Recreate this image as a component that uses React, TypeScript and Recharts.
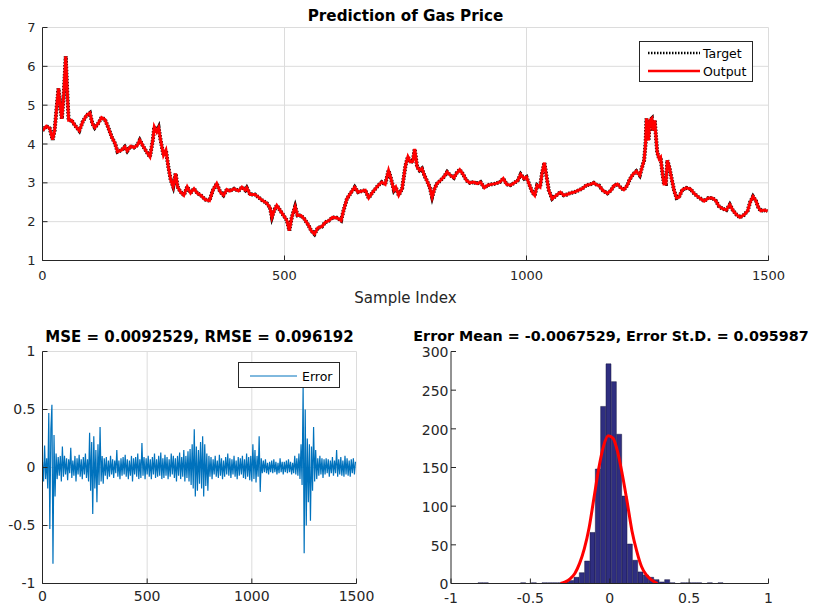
import React from 'react';
import { LineChart, Line, XAxis, YAxis, CartesianGrid, Legend, ComposedChart, Bar } from 'recharts';

// ---- Top plot: gas price (Target / Output) ----
const priceIndex = [
  0, 8, 15, 21, 25, 30, 33, 37, 40, 44, 48, 51, 54, 60, 67, 76, 83, 91, 98, 103,
  108, 115, 122, 129, 136, 143, 150, 155, 163, 170, 175, 182, 189, 196, 201, 208, 215, 222, 228, 231,
  236, 240, 244, 250, 255, 260, 265, 270, 275, 279, 285, 292, 299, 306, 313, 320, 327, 336, 345, 352,
  360, 367, 374, 381, 387, 396, 405, 412, 419, 422, 429, 439, 446, 454, 463, 470, 474, 479, 484, 491,
  498, 505, 510, 515, 522, 527, 534, 541, 550, 555, 562, 569, 577, 584, 592, 599, 608, 617, 622, 629,
  638, 645, 652, 660, 667, 674, 681, 688, 694, 701, 708, 715, 720, 726, 730, 736, 743, 750, 755, 760,
  765, 769, 774, 779, 784, 789, 794, 800, 805, 810, 815, 822, 829, 836, 843, 850, 855, 862, 869, 876,
  883, 891, 898, 905, 913, 920, 927, 936, 945, 952, 959, 967, 975, 982, 988, 995, 1000, 1005, 1012, 1017,
  1022, 1028, 1032, 1037, 1041, 1046, 1053, 1062, 1070, 1077, 1084, 1091, 1099, 1108, 1115, 1124, 1132, 1139, 1146, 1150,
  1158, 1167, 1174, 1181, 1188, 1195, 1201, 1208, 1213, 1220, 1227, 1234, 1239, 1243, 1246, 1248, 1252, 1255, 1259, 1261,
  1265, 1267, 1270, 1274, 1277, 1281, 1284, 1288, 1291, 1295, 1300, 1305, 1310, 1315, 1322, 1330, 1339, 1346, 1353, 1360,
  1367, 1376, 1384, 1391, 1398, 1406, 1413, 1420, 1427, 1434, 1441, 1450, 1457, 1462, 1468, 1474, 1479, 1484, 1491, 1498,
];
const priceValue = [
  4.35, 4.46, 4.40, 4.11, 4.35, 5.04, 5.43, 4.95, 4.65, 5.30, 6.26, 5.38, 4.61, 4.61, 4.48, 4.34, 4.57, 4.74, 4.80, 4.53,
  4.42, 4.53, 4.68, 4.63, 4.42, 4.18, 4.01, 3.80, 3.84, 3.93, 3.82, 3.94, 3.91, 3.97, 4.10, 3.94, 3.80, 3.67, 4.10, 4.44,
  4.31, 4.42, 4.10, 3.71, 3.84, 3.41, 3.07, 2.90, 3.24, 2.90, 2.77, 2.68, 2.90, 2.74, 2.85, 2.73, 2.68, 2.57, 2.54, 2.81,
  2.98, 2.77, 2.68, 2.83, 2.79, 2.85, 2.79, 2.89, 2.81, 2.87, 2.70, 2.70, 2.63, 2.55, 2.48, 2.36, 2.11, 2.30, 2.42, 2.29,
  2.16, 2.03, 1.77, 2.11, 2.39, 2.16, 2.16, 2.07, 1.90, 1.77, 1.68, 1.84, 1.87, 1.98, 2.03, 2.11, 2.10, 2.03, 2.29, 2.59,
  2.76, 2.89, 2.76, 2.79, 2.81, 2.61, 2.74, 2.85, 2.94, 3.02, 2.96, 3.32, 3.11, 2.81, 2.89, 2.68, 2.85, 3.45, 3.67, 3.54,
  3.55, 3.87, 3.41, 3.32, 3.37, 3.19, 3.06, 2.89, 2.63, 2.85, 2.98, 3.06, 3.15, 3.28, 3.19, 3.13, 3.24, 3.34, 3.22, 3.06,
  3.00, 3.02, 2.98, 3.02, 2.87, 2.94, 2.96, 2.98, 3.02, 3.11, 2.96, 2.94, 3.00, 3.06, 3.22, 3.11, 3.15, 2.98, 2.76, 2.68,
  2.94, 2.89, 3.24, 3.52, 3.19, 2.81, 2.59, 2.68, 2.76, 2.68, 2.70, 2.74, 2.76, 2.81, 2.85, 2.94, 2.96, 3.00, 2.94, 2.93,
  2.80, 2.73, 2.80, 2.93, 2.97, 2.87, 2.82, 2.93, 3.08, 3.22, 3.30, 3.19, 3.41, 3.58, 4.01, 4.66, 4.09, 4.61, 4.66, 4.35,
  4.61, 4.27, 3.79, 3.62, 3.66, 3.23, 2.97, 2.97, 3.58, 3.41, 3.10, 2.80, 2.61, 2.63, 2.82, 2.87, 2.84, 2.73, 2.65, 2.59,
  2.53, 2.61, 2.61, 2.54, 2.39, 2.33, 2.30, 2.44, 2.28, 2.18, 2.11, 2.18, 2.28, 2.50, 2.65, 2.54, 2.37, 2.28, 2.30, 2.27,
];

// ---- Bottom-left: prediction error, one reading every 5 samples ----
const errorStep = 5;
const errorValues = [
  0.05, -0.12, 0.19, -0.1, 0.08, -0.18, 0.47, -0.53, 0.33, 0.54,
  -0.83, 0.28, -0.25, 0.12, -0.1, 0.09, -0.07, 0.1, -0.12, 0.18,
  -0.08, 0.1, -0.06, 0.08, -0.11, 0.07, -0.05, 0.17, -0.09, 0.06,
  -0.07, 0.1, -0.12, 0.08, -0.06, 0.11, -0.08, 0.07, -0.1, 0.09,
  -0.06, 0.12, -0.09, 0.07, -0.12, 0.3, -0.2, 0.22, -0.4, 0.27,
  -0.18, 0.15, -0.3, 0.2, -0.15, 0.35, -0.12, 0.1, -0.14, 0.08,
  -0.07, 0.09, -0.1, 0.06, -0.08, 0.1, -0.06, 0.07, -0.09, 0.06,
  -0.05, 0.15, -0.08, 0.06, -0.1, 0.08, -0.07, 0.09, -0.06, 0.11,
  -0.08, 0.07, -0.1, 0.06, -0.07, 0.1, -0.12, 0.08, -0.06, 0.09,
  -0.08, 0.12, -0.1, 0.07, -0.09, 0.21, -0.07, 0.09, -0.1, 0.08,
  -0.06, 0.1, -0.08, 0.07, -0.1, 0.09, -0.06, 0.12, -0.09, 0.07,
  -0.08, 0.1, -0.07, 0.13, -0.1, 0.08, -0.09, 0.11, -0.07, 0.09,
  -0.1, 0.07, -0.08, 0.12, -0.06, 0.1, -0.09, 0.08, -0.12, 0.1,
  -0.07, 0.13, -0.1, 0.09, -0.08, 0.15, -0.12, 0.1, -0.09, 0.14,
  -0.12, 0.16, -0.15, 0.2, -0.18, 0.33, -0.25, 0.18, -0.2, 0.15,
  -0.14, 0.22, -0.18, 0.27, -0.25, 0.2, -0.16, 0.12, -0.2, 0.1,
  -0.08, 0.09, -0.1, 0.07, -0.06, 0.1, -0.08, 0.06, -0.09, 0.11,
  -0.07, 0.08, -0.1, 0.06, -0.08, 0.09, -0.06, 0.12, -0.07, 0.08,
  -0.09, 0.07, -0.06, 0.1, -0.08, 0.06, -0.1, 0.09, -0.07, 0.08,
  -0.06, 0.1, -0.09, 0.07, -0.1, 0.12, -0.08, 0.09, -0.11, 0.1,
  -0.12, 0.2, -0.1, 0.15, -0.13, 0.1, -0.08, 0.27, -0.21, 0.08,
  -0.05, 0.06, -0.04, 0.07, -0.05, 0.04, -0.06, 0.05, -0.04, 0.06,
  -0.05, 0.07, -0.04, 0.05, -0.06, 0.04, -0.05, 0.08, -0.04, 0.05,
  -0.06, 0.05, -0.04, 0.06, -0.05, 0.07, -0.04, 0.05, -0.06, 0.04,
  -0.05, 0.1, -0.06, 0.08, -0.07, 0.12, -0.1, 0.2, -0.15, 0.7,
  -0.74, 0.5, -0.5, 0.25, -0.3, 0.2, -0.46, 0.18, -0.2, 0.35,
  -0.12, 0.15, -0.1, 0.08, -0.07, 0.1, -0.06, 0.08, -0.09, 0.07,
  -0.06, 0.08, -0.05, 0.07, -0.08, 0.06, -0.05, 0.09, -0.07, 0.06,
  -0.05, 0.15, -0.08, 0.07, -0.06, 0.09, -0.07, 0.06, -0.08, 0.1,
  -0.06, 0.08, -0.07, 0.06, -0.08, 0.07, -0.05, 0.08, -0.06, 0.05,
];

// ---- Bottom-right: error histogram (contiguous bins) and fitted curve ----
const binCenters = [
  -0.9812, -0.9476, -0.9140, -0.8804, -0.8468, -0.8132, -0.7796, -0.7460, -0.7124, -0.6788,
  -0.6452, -0.6116, -0.5780, -0.5444, -0.5108, -0.4772, -0.4436, -0.4100, -0.3764, -0.3428,
  -0.3092, -0.2756, -0.2420, -0.2084, -0.1748, -0.1412, -0.1076, -0.0740, -0.0404, -0.0068,
  0.0268, 0.0604, 0.0940, 0.1276, 0.1612, 0.1948, 0.2284, 0.2620, 0.2956, 0.3292,
  0.3628, 0.3964, 0.4300, 0.4636, 0.4972, 0.5308, 0.5644, 0.5980, 0.6316, 0.6652,
  0.6988, 0.7324, 0.7660, 0.7996, 0.8332, 0.8668, 0.9004, 0.9340, 0.9676,
];
const binCounts = [
  0, 0, 0, 0, 0, 1, 1, 0, 0, 0,
  0, 0, 0, 1, 0, 1, 0, 1, 1, 1,
  1, 2, 4, 8, 14, 29, 66, 148, 229, 284,
  261, 193, 113, 51, 30, 15, 11, 8, 5, 2,
  5, 1, 0, 1, 1, 1, 1, 0, 1, 0,
  1, 0, 0, 0, 0, 0, 0, 0, 0,
];
const fitX = [-0.31, -0.28, -0.25, -0.22, -0.19, -0.16, -0.13, -0.10, -0.07, -0.04, -0.01, 0.02, 0.05, 0.08, 0.11, 0.14, 0.17, 0.20, 0.23, 0.26, 0.30];
const fitY = [0, 2, 6, 13, 26, 45, 72, 110, 148, 177, 191, 188, 170, 140, 105, 68, 42, 22, 11, 5, 0];

// ---- Ticks ----
const sampleTicks = [0, 500, 1000, 1500];
const priceTicks = [1, 2, 3, 4, 5, 6, 7];
const errorTicks = [-1, -0.5, 0, 0.5, 1];
const histXTicks = [-1, -0.5, 0, 0.5, 1];
const histYTicks = [0, 50, 100, 150, 200, 250, 300];

const priceData = priceIndex.map((idx, i) => ({ idx, target: priceValue[i], output: priceValue[i] }));
const errorData = errorValues.map((err, i) => ({ idx: i * errorStep, err }));
const histData = binCenters.map((bin, i) => ({ bin, x: bin, count: binCounts[i] }));
const fitData = fitX.map((x, i) => ({ x, fit: fitY[i] }));

const FONT = '"DejaVu Sans", sans-serif';
const AX = '#262626';
const GRID = '#dcdcdc';

const TopLegend = () => (
  <svg width={114} height={41} style={{ display: 'block' }}>
    <rect x={0.5} y={0.5} width={113} height={40} fill="#fff" stroke={AX} strokeWidth={1} />
    <line x1={9} y1={12} x2={61} y2={12} stroke="#000" strokeWidth={2.5} strokeDasharray="1.5 1.5" />
    <text x={64} y={16.5} fontFamily={FONT} fontSize={12.5} fill="#000">Target</text>
    <line x1={9} y1={30} x2={61} y2={30} stroke="#ff0000" strokeWidth={2.5} />
    <text x={64} y={34.5} fontFamily={FONT} fontSize={12.5} fill="#000">Output</text>
  </svg>
);

const ErrorLegend = () => (
  <svg width={102} height={26} style={{ display: 'block' }}>
    <rect x={0.5} y={0.5} width={101} height={25} fill="#fff" stroke={AX} strokeWidth={1} />
    <line x1={12} y1={14} x2={59} y2={14} stroke="#0072BD" strokeWidth={1} />
    <text x={64} y={18.5} fontFamily={FONT} fontSize={12.5} fill="#000">Error</text>
  </svg>
);

export default function App() {
  const tick13 = { fill: AX, fontSize: 13, fontFamily: FONT };
  const tick14 = { fill: AX, fontSize: 14, fontFamily: FONT };
  return (
    <div style={{ position: 'absolute', left: 0, top: 0, width: 817, height: 609, background: '#fff', fontFamily: FONT }}>
      <svg width={817} height={609} style={{ position: 'absolute', left: 0, top: 0 }}>
        <text x={405.5} y={20.5} textAnchor="middle" fontFamily={FONT} fontWeight="bold" fontSize={15.2} fill="#000">Prediction of Gas Price</text>
        <text x={199.5} y={341.5} textAnchor="middle" fontFamily={FONT} fontWeight="bold" fontSize={15} fill="#000">MSE = 0.0092529, RMSE = 0.096192</text>
        <text x={611} y={341} textAnchor="middle" fontFamily={FONT} fontWeight="bold" fontSize={14.3} fill="#000">Error Mean = -0.0067529, Error St.D. = 0.095987</text>
      </svg>

      {/* Top: prediction */}
      <div style={{ position: 'absolute', left: 0, top: 0 }}>
        <LineChart width={817} height={310} data={priceData} margin={{ top: 27.5, right: 48.5, bottom: 7.5, left: 0 }}>
          <CartesianGrid stroke={GRID} strokeWidth={1} />
          <XAxis dataKey="idx" type="number" domain={[0, 1500]} ticks={sampleTicks} allowDataOverflow height={42}
            tickSize={-5} tickMargin={15} tick={tick13} axisLine={{ stroke: AX }} tickLine={{ stroke: AX }}
            label={{ value: 'Sample Index', position: 'insideBottom', offset: 0, fill: AX, fontSize: 15, fontFamily: FONT }} />
          <XAxis xAxisId="top" orientation="top" dataKey="idx" type="number" domain={[0, 1500]} ticks={sampleTicks} allowDataOverflow
            height={0} tickSize={-5} tick={false} axisLine={{ stroke: AX }} tickLine={{ stroke: AX }} />
          <YAxis domain={[1, 7]} ticks={priceTicks} allowDataOverflow width={42.5} tickSize={-5} tickMargin={12}
            tick={tick13} axisLine={{ stroke: AX }} tickLine={{ stroke: AX }} />
          <YAxis yAxisId="right" orientation="right" domain={[1, 7]} ticks={priceTicks} allowDataOverflow width={0}
            tickSize={-5} tick={false} axisLine={{ stroke: AX }} tickLine={{ stroke: AX }} />
          <Line dataKey="target" name="Target" stroke="#000" strokeWidth={4} strokeDasharray="1.5 1.5" dot={false} isAnimationActive={false} />
          <Line dataKey="output" name="Output" stroke="#ff0000" strokeWidth={3} dot={false} isAnimationActive={false} />
          <Legend layout="vertical" align="center" verticalAlign="middle"
            wrapperStyle={{ left: 639, top: 41, width: 114, height: 41 }} content={() => <TopLegend />} />
        </LineChart>
      </div>

      {/* Bottom-left: error */}
      <div style={{ position: 'absolute', left: 0, top: 320 }}>
        <LineChart width={400} height={289} data={errorData} margin={{ top: 31.5, right: 43.5, bottom: 0, left: 0 }}>
          <CartesianGrid stroke={GRID} strokeWidth={1} />
          <XAxis dataKey="idx" type="number" domain={[0, 1500]} ticks={sampleTicks} allowDataOverflow height={25.5}
            tickSize={-5} tickMargin={13} tick={tick14} axisLine={{ stroke: AX }} tickLine={{ stroke: AX }} />
          <XAxis xAxisId="top" orientation="top" dataKey="idx" type="number" domain={[0, 1500]} ticks={sampleTicks} allowDataOverflow
            height={0} tickSize={-5} tick={false} axisLine={{ stroke: AX }} tickLine={{ stroke: AX }} />
          <YAxis domain={[-1, 1]} ticks={errorTicks} allowDataOverflow width={42.5} tickSize={-5} tickMargin={12}
            tick={tick14} axisLine={{ stroke: AX }} tickLine={{ stroke: AX }} />
          <YAxis yAxisId="right" orientation="right" domain={[-1, 1]} ticks={errorTicks} allowDataOverflow width={0}
            tickSize={-5} tick={false} axisLine={{ stroke: AX }} tickLine={{ stroke: AX }} />
          <Line dataKey="err" name="Error" stroke="#0072BD" strokeWidth={1.2} dot={false} isAnimationActive={false} />
          <Legend layout="vertical" align="center" verticalAlign="middle"
            wrapperStyle={{ left: 238, top: 42, width: 102, height: 26 }} content={() => <ErrorLegend />} />
        </LineChart>
      </div>

      {/* Bottom-right: histogram */}
      <div style={{ position: 'absolute', left: 400, top: 320 }}>
        <ComposedChart width={417} height={289} data={histData} barCategoryGap={0} barGap={0}
          margin={{ top: 31.5, right: 48.5, bottom: 0, left: 0 }}>
          <XAxis dataKey="x" type="number" domain={[-1, 1]} ticks={histXTicks} allowDataOverflow height={25.5}
            tickSize={-5} tickMargin={14.5} tick={tick14} axisLine={{ stroke: AX }} tickLine={{ stroke: AX }} />
          <XAxis xAxisId="bins" dataKey="bin" type="category" hide padding={{ left: 0.32, right: 2.48 }} />
          <XAxis xAxisId="top" orientation="top" dataKey="x" type="number" domain={[-1, 1]} ticks={histXTicks} allowDataOverflow
            height={0} tickSize={-5} tick={false} axisLine={{ stroke: AX }} tickLine={{ stroke: AX }} />
          <YAxis domain={[0, 300]} ticks={histYTicks} allowDataOverflow width={51} tickSize={-5} tickMargin={7.5}
            tick={{ ...tick14, dy: 1 }} axisLine={{ stroke: AX }} tickLine={{ stroke: AX }} />
          <YAxis yAxisId="right" orientation="right" domain={[0, 300]} ticks={histYTicks} allowDataOverflow width={0}
            tickSize={-5} tick={false} axisLine={{ stroke: AX }} tickLine={{ stroke: AX }} />
          <Bar xAxisId="bins" dataKey="count" fill="#2f2e80" stroke="#17173f" strokeWidth={0.5} isAnimationActive={false} />
          <Line data={fitData} dataKey="fit" type="monotone" stroke="#ff0000" strokeWidth={3} dot={false} isAnimationActive={false} />
        </ComposedChart>
      </div>
    </div>
  );
}
